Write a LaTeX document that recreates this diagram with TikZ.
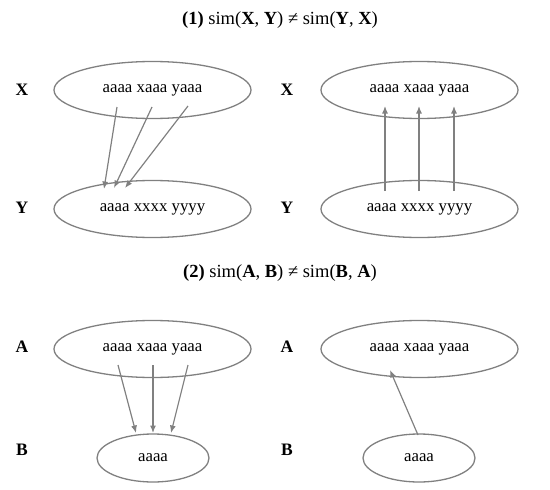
\documentclass[tikz,border=0pt]{standalone}
\usepackage{fontspec}
\setmainfont{Liberation Serif}
\usetikzlibrary{shapes.geometric,arrows.meta}
\begin{document}
\begin{tikzpicture}[x=1pt,y=-1pt,
  setnode/.style={ellipse,draw=black!50,line width=1.3pt,inner sep=0pt,font=\fontsize{16.8}{20}\selectfont},
  bigset/.style={setnode,minimum width=197pt,minimum height=57pt},
  smallset/.style={setnode,minimum width=112pt,minimum height=48pt},
  lab/.style={font=\fontsize{17.5}{20}\selectfont\bfseries},
  ttl/.style={font=\fontsize{18.5}{22}\selectfont},
  link/.style={draw=black!50,line width=1.2pt,-{Latex[length=7.5pt,width=6pt]}}]
\useasboundingbox (0,0) rectangle (550,490);
% titles
\node[ttl] (t1) at (280,20) {\textbf{(1)} sim(\textbf{X}, \textbf{Y}) ≠ sim(\textbf{Y}, \textbf{X})};
\node[ttl] (t2) at (280,273) {\textbf{(2)} sim(\textbf{A}, \textbf{B}) ≠ sim(\textbf{B}, \textbf{A})};
% labels
\node[lab] (lx1) at (22,90) {X};
\node[lab] (ly1) at (22,208) {Y};
\node[lab] (lx2) at (287,90) {X};
\node[lab] (ly2) at (287,208) {Y};
\node[lab] (la1) at (22,347) {A};
\node[lab] (lb1) at (22,450) {B};
\node[lab] (la2) at (287,347) {A};
\node[lab] (lb2) at (287,450) {B};
% sets
\node[bigset] (x1) at (152.5,90) {aaaa xaaa yaaa};
\node[bigset] (y1) at (152.5,209) {aaaa xxxx yyyy};
\node[bigset] (x2) at (419.5,90) {aaaa xaaa yaaa};
\node[bigset] (y2) at (419.5,209) {aaaa xxxx yyyy};
\node[bigset] (a1) at (152.5,349) {aaaa xaaa yaaa};
\node[smallset] (b1) at (153,458) {aaaa};
\node[bigset] (a2) at (419.5,349) {aaaa xaaa yaaa};
\node[smallset] (b2) at (419,458) {aaaa};
% arrow endpoints
\coordinate (p1s) at (117,107); \coordinate (p1e) at (104,189);
\coordinate (p2s) at (152,107); \coordinate (p2e) at (114,188);
\coordinate (p3s) at (188,106); \coordinate (p3e) at (125,188);
\coordinate (q1s) at (385,191); \coordinate (q1e) at (385,106);
\coordinate (q2s) at (419,191); \coordinate (q2e) at (419,106);
\coordinate (q3s) at (454,191); \coordinate (q3e) at (454,106);
\coordinate (r1s) at (118,365); \coordinate (r1e) at (136,433);
\coordinate (r2s) at (153,365); \coordinate (r2e) at (153,433);
\coordinate (r3s) at (188,365); \coordinate (r3e) at (171,433);
\coordinate (s1s) at (418,435); \coordinate (s1e) at (390,370);
% arrows
\draw[link] (p1s) -- (p1e);
\draw[link] (p2s) -- (p2e);
\draw[link] (p3s) -- (p3e);
\draw[link] (q1s) -- (q1e);
\draw[link] (q2s) -- (q2e);
\draw[link] (q3s) -- (q3e);
\draw[link] (r1s) -- (r1e);
\draw[link] (r2s) -- (r2e);
\draw[link] (r3s) -- (r3e);
\draw[link] (s1s) -- (s1e);
\end{tikzpicture}
\end{document}
